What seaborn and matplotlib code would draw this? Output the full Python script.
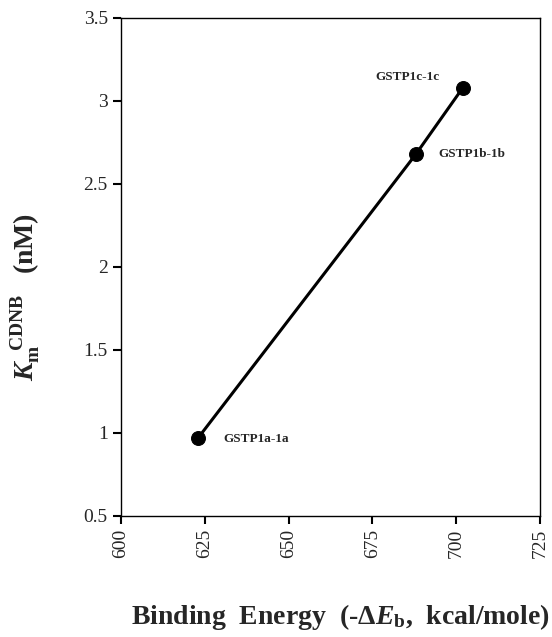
import matplotlib
matplotlib.use("Agg")
import matplotlib.pyplot as plt
import seaborn as sns
import pandas as pd

# values
variants = ["GSTP1a-1a", "GSTP1b-1b", "GSTP1c-1c"]
binding_energy = [623, 688, 702]
km_cdnb = [0.97, 2.68, 3.08]
x_ticks = [600, 625, 650, 675, 700, 725]
y_ticks = [0.5, 1, 1.5, 2, 2.5, 3, 3.5]

df = pd.DataFrame({"energy": binding_energy, "km": km_cdnb, "variant": variants})

sns.set_style("ticks")
plt.rcParams["font.family"] = ["Liberation Serif", "DejaVu Serif"]
plt.rcParams["mathtext.fontset"] = "custom"
plt.rcParams["mathtext.rm"] = "Liberation Serif:bold"
plt.rcParams["mathtext.it"] = "Liberation Serif:italic:bold"
plt.rcParams["mathtext.bf"] = "Liberation Serif:bold"

fig = plt.figure(figsize=(5.52, 6.37), dpi=100)
ax = fig.add_axes([0.2192, 0.19, 0.759, 0.7818])

sns.lineplot(data=df, x="energy", y="km", ax=ax, color="black", linewidth=2.2,
             marker="o", markersize=10, markeredgecolor="black", sort=False)

# labels next to each point
offsets = {"GSTP1a-1a": (18, -1, "left"), "GSTP1b-1b": (16.5, 0, "left"),
           "GSTP1c-1c": (-17, 8, "right")}
for name, xv, yv in zip(variants, binding_energy, km_cdnb):
    dx, dy, ha = offsets[name]
    ax.annotate(name, (xv, yv), xytext=(dx, dy), textcoords="offset points",
                ha=ha, va="center", fontsize=9.5, fontweight="bold")

ax.set_xlim(600, 725)
ax.set_ylim(0.5, 3.5)
ax.set_xticks(x_ticks)
ax.set_yticks(y_ticks)
ax.set_yticklabels([f"{v:g}" for v in y_ticks])
ax.tick_params(axis="both", direction="out", length=6, width=1.5, labelsize=14, color="black")
ax.tick_params(axis="x", labelrotation=90)
for s in ax.spines.values():
    s.set_visible(True)
    s.set_linewidth(1.0)
    s.set_color("black")

ax.set_xlabel(r"Binding  Energy  (-$\Delta E_{\mathrm{b}}$,  kcal/mole)", fontsize=20, fontweight="bold")
ax.set_ylabel(r"$K_{\mathrm{m}}^{\ \ \mathrm{CDNB}}$   (nM)", fontsize=20, fontweight="bold")
ax.xaxis.set_label_coords(0.523, -0.173)
ax.yaxis.set_label_coords(-0.189, 0.44)

fig.savefig("out.png", dpi=100)
